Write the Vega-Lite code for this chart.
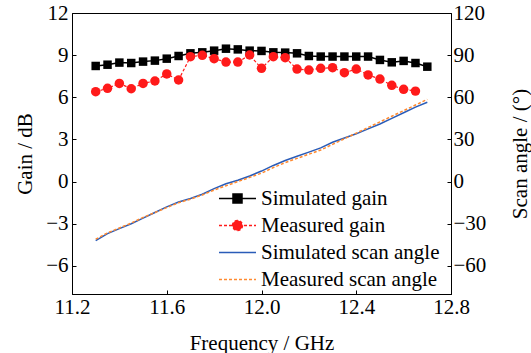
{
  "$schema": "https://vega.github.io/schema/vega-lite/v6.json",
  "width": 379,
  "height": 281,
  "autosize": {"type": "none"},
  "padding": {"left": 72, "top": 13, "right": 80, "bottom": 59},
  "background": "white",
  "config": {
    "font": "serif",
    "view": {"stroke": "black", "strokeWidth": 1},
    "axis": {
      "grid": false,
      "domainColor": "black",
      "tickColor": "black",
      "labelFontSize": 21,
      "titleFontSize": 21,
      "titleFontWeight": "normal",
      "labelFlush": false,
      "labelOverlap": false,
      "tickSize": -4
    }
  },
  "data": {
    "values": [
      {"f": 11.3, "series": "Simulated gain", "v": 8.23},
      {"f": 11.35, "series": "Simulated gain", "v": 8.32},
      {"f": 11.4, "series": "Simulated gain", "v": 8.47},
      {"f": 11.45, "series": "Simulated gain", "v": 8.44},
      {"f": 11.5, "series": "Simulated gain", "v": 8.54},
      {"f": 11.55, "series": "Simulated gain", "v": 8.61},
      {"f": 11.6, "series": "Simulated gain", "v": 8.75},
      {"f": 11.65, "series": "Simulated gain", "v": 8.94},
      {"f": 11.7, "series": "Simulated gain", "v": 9.13},
      {"f": 11.75, "series": "Simulated gain", "v": 9.2},
      {"f": 11.8, "series": "Simulated gain", "v": 9.32},
      {"f": 11.85, "series": "Simulated gain", "v": 9.46},
      {"f": 11.9, "series": "Simulated gain", "v": 9.41},
      {"f": 11.95, "series": "Simulated gain", "v": 9.32},
      {"f": 12.0, "series": "Simulated gain", "v": 9.3},
      {"f": 12.05, "series": "Simulated gain", "v": 9.2},
      {"f": 12.1, "series": "Simulated gain", "v": 9.18},
      {"f": 12.15, "series": "Simulated gain", "v": 9.13},
      {"f": 12.2, "series": "Simulated gain", "v": 8.94},
      {"f": 12.25, "series": "Simulated gain", "v": 8.9},
      {"f": 12.3, "series": "Simulated gain", "v": 8.9},
      {"f": 12.35, "series": "Simulated gain", "v": 8.9},
      {"f": 12.4, "series": "Simulated gain", "v": 8.9},
      {"f": 12.45, "series": "Simulated gain", "v": 8.9},
      {"f": 12.5, "series": "Simulated gain", "v": 8.66},
      {"f": 12.55, "series": "Simulated gain", "v": 8.49},
      {"f": 12.6, "series": "Simulated gain", "v": 8.59},
      {"f": 12.65, "series": "Simulated gain", "v": 8.44},
      {"f": 12.7, "series": "Simulated gain", "v": 8.18},
      {"f": 11.3, "series": "Measured gain", "v": 6.4},
      {"f": 11.35, "series": "Measured gain", "v": 6.64},
      {"f": 11.4, "series": "Measured gain", "v": 6.99},
      {"f": 11.45, "series": "Measured gain", "v": 6.61},
      {"f": 11.5, "series": "Measured gain", "v": 6.99},
      {"f": 11.55, "series": "Measured gain", "v": 7.16},
      {"f": 11.6, "series": "Measured gain", "v": 7.66},
      {"f": 11.65, "series": "Measured gain", "v": 7.23},
      {"f": 11.7, "series": "Measured gain", "v": 8.89},
      {"f": 11.75, "series": "Measured gain", "v": 8.99},
      {"f": 11.8, "series": "Measured gain", "v": 8.75},
      {"f": 11.85, "series": "Measured gain", "v": 8.51},
      {"f": 11.9, "series": "Measured gain", "v": 8.51},
      {"f": 11.95, "series": "Measured gain", "v": 9.01},
      {"f": 12.0, "series": "Measured gain", "v": 8.06},
      {"f": 12.05, "series": "Measured gain", "v": 8.89},
      {"f": 12.1, "series": "Measured gain", "v": 8.82},
      {"f": 12.15, "series": "Measured gain", "v": 8.01},
      {"f": 12.2, "series": "Measured gain", "v": 7.94},
      {"f": 12.25, "series": "Measured gain", "v": 8.06},
      {"f": 12.3, "series": "Measured gain", "v": 8.11},
      {"f": 12.35, "series": "Measured gain", "v": 7.75},
      {"f": 12.4, "series": "Measured gain", "v": 8.01},
      {"f": 12.45, "series": "Measured gain", "v": 7.59},
      {"f": 12.5, "series": "Measured gain", "v": 7.3},
      {"f": 12.55, "series": "Measured gain", "v": 6.85},
      {"f": 12.6, "series": "Measured gain", "v": 6.57},
      {"f": 12.65, "series": "Measured gain", "v": 6.44},
      {"f": 11.3, "series": "Simulated scan angle", "v": -42},
      {"f": 11.35, "series": "Simulated scan angle", "v": -37},
      {"f": 11.4, "series": "Simulated scan angle", "v": -33.5},
      {"f": 11.45, "series": "Simulated scan angle", "v": -30},
      {"f": 11.5, "series": "Simulated scan angle", "v": -26},
      {"f": 11.55, "series": "Simulated scan angle", "v": -22},
      {"f": 11.6, "series": "Simulated scan angle", "v": -18},
      {"f": 11.65, "series": "Simulated scan angle", "v": -14.5},
      {"f": 11.7, "series": "Simulated scan angle", "v": -12},
      {"f": 11.75, "series": "Simulated scan angle", "v": -9},
      {"f": 11.8, "series": "Simulated scan angle", "v": -5},
      {"f": 11.85, "series": "Simulated scan angle", "v": -1.5},
      {"f": 11.9, "series": "Simulated scan angle", "v": 1},
      {"f": 11.95, "series": "Simulated scan angle", "v": 4},
      {"f": 12.0, "series": "Simulated scan angle", "v": 7.5},
      {"f": 12.05, "series": "Simulated scan angle", "v": 11.5},
      {"f": 12.1, "series": "Simulated scan angle", "v": 15},
      {"f": 12.15, "series": "Simulated scan angle", "v": 18},
      {"f": 12.2, "series": "Simulated scan angle", "v": 21},
      {"f": 12.25, "series": "Simulated scan angle", "v": 24},
      {"f": 12.3, "series": "Simulated scan angle", "v": 28},
      {"f": 12.35, "series": "Simulated scan angle", "v": 31},
      {"f": 12.4, "series": "Simulated scan angle", "v": 34},
      {"f": 12.45, "series": "Simulated scan angle", "v": 37.5},
      {"f": 12.5, "series": "Simulated scan angle", "v": 41},
      {"f": 12.55, "series": "Simulated scan angle", "v": 45},
      {"f": 12.6, "series": "Simulated scan angle", "v": 49},
      {"f": 12.65, "series": "Simulated scan angle", "v": 53},
      {"f": 12.7, "series": "Simulated scan angle", "v": 56.5},
      {"f": 11.3, "series": "Measured scan angle", "v": -41},
      {"f": 11.35, "series": "Measured scan angle", "v": -36.5},
      {"f": 11.4, "series": "Measured scan angle", "v": -33},
      {"f": 11.45, "series": "Measured scan angle", "v": -29.5},
      {"f": 11.5, "series": "Measured scan angle", "v": -25.5},
      {"f": 11.55, "series": "Measured scan angle", "v": -22},
      {"f": 11.6, "series": "Measured scan angle", "v": -18.5},
      {"f": 11.65, "series": "Measured scan angle", "v": -15},
      {"f": 11.7, "series": "Measured scan angle", "v": -12.5},
      {"f": 11.75, "series": "Measured scan angle", "v": -9.5},
      {"f": 11.8, "series": "Measured scan angle", "v": -6},
      {"f": 11.85, "series": "Measured scan angle", "v": -3},
      {"f": 11.9, "series": "Measured scan angle", "v": 0},
      {"f": 11.95, "series": "Measured scan angle", "v": 3},
      {"f": 12.0, "series": "Measured scan angle", "v": 6},
      {"f": 12.05, "series": "Measured scan angle", "v": 10},
      {"f": 12.1, "series": "Measured scan angle", "v": 13.5},
      {"f": 12.15, "series": "Measured scan angle", "v": 16.5},
      {"f": 12.2, "series": "Measured scan angle", "v": 19.5},
      {"f": 12.25, "series": "Measured scan angle", "v": 22.5},
      {"f": 12.3, "series": "Measured scan angle", "v": 26.5},
      {"f": 12.35, "series": "Measured scan angle", "v": 30.5},
      {"f": 12.4, "series": "Measured scan angle", "v": 34.5},
      {"f": 12.45, "series": "Measured scan angle", "v": 38.5},
      {"f": 12.5, "series": "Measured scan angle", "v": 42.5},
      {"f": 12.55, "series": "Measured scan angle", "v": 46.5},
      {"f": 12.6, "series": "Measured scan angle", "v": 50.5},
      {"f": 12.65, "series": "Measured scan angle", "v": 54.5},
      {"f": 12.7, "series": "Measured scan angle", "v": 58.5}
    ]
  },
  "encoding": {
    "x": {
      "field": "f",
      "type": "quantitative",
      "scale": {"domain": [11.2, 12.8], "nice": false, "zero": false},
      "axis": {
        "title": "Frequency / GHz",
        "values": [11.2, 11.6, 12.0, 12.4, 12.8],
        "format": ".1f",
        "labelFont": "serif",
        "titleFont": "serif",
        "labelFontSize": 21,
        "titleFontSize": 21,
        "labelPadding": 6,
        "titlePadding": 15
      }
    },
    "color": {
      "field": "series",
      "type": "nominal",
      "scale": {
        "domain": ["Simulated gain", "Measured gain", "Simulated scan angle", "Measured scan angle"],
        "range": ["#000000", "#ff1a1a", "#2a5cb8", "#ff8a30"]
      },
      "legend": {
        "title": null,
        "orient": "none",
        "legendX": 154,
        "legendY": 174,
        "padding": 0,
        "symbolSize": 441,
        "symbolStrokeWidth": 1.5,
        "labelOffset": 12,
        "rowPadding": 5,
        "labelLimit": 400,
        "labelFont": "serif",
        "labelFontSize": 21,
        "labelColor": "black",
        "encoding": {
          "symbols": {
            "shape": {"value": {"expr": "datum.value === 'Simulated gain' ? 'M-1.762,0L1.762,0M-0.43,-0.43L0.43,-0.43L0.43,0.43L-0.43,0.43Z' : datum.value === 'Measured gain' ? 'M-1.762,0L1.762,0M-0.476,0A0.476,0.476,0,1,1,0.476,0A0.476,0.476,0,1,1,-0.476,0Z' : 'M-1.762,0L1.762,0'"}},
            "fill": {"value": {"expr": "datum.value === 'Simulated gain' ? '#000000' : datum.value === 'Measured gain' ? '#ff1a1a' : 'transparent'"}},
            "fillOpacity": {"value": 1},
            "opacity": {"value": 1},
            "strokeDash": {"value": {"expr": "(datum.value === 'Measured gain' || datum.value === 'Measured scan angle') ? [3, 2] : []"}}
          }
        }
      }
    }
  },
  "layer": [
    {
      "encoding": {
        "y": {
          "field": "v",
          "type": "quantitative",
          "scale": {"domain": [-8, 12], "nice": false, "zero": false},
          "axis": {
            "title": "Gain / dB",
            "orient": "left",
            "values": [-6, -3, 0, 3, 6, 9, 12],
            "labelFont": "serif",
            "titleFont": "serif",
            "labelFontSize": 21,
            "titleFontSize": 21,
            "labelPadding": 8,
            "titlePadding": 10
          }
        }
      },
      "layer": [
        {
          "transform": [{"filter": "datum.series === 'Simulated gain'"}],
          "mark": {"type": "line", "strokeWidth": 1.5}
        },
        {
          "transform": [{"filter": "datum.series === 'Measured gain'"}],
          "mark": {"type": "line", "strokeWidth": 1.2, "strokeDash": [3, 2]}
        },
        {
          "transform": [{"filter": "datum.series === 'Simulated gain'"}],
          "mark": {"type": "point", "shape": "square", "filled": true, "size": 72, "opacity": 1}
        },
        {
          "transform": [{"filter": "datum.series === 'Measured gain'"}],
          "mark": {"type": "point", "shape": "circle", "filled": true, "size": 90, "opacity": 1}
        }
      ]
    },
    {
      "encoding": {
        "y": {
          "field": "v",
          "type": "quantitative",
          "scale": {"domain": [-80, 120], "nice": false, "zero": false},
          "axis": {
            "title": "Scan angle / (°)",
            "orient": "right",
            "values": [-60, -30, 0, 30, 60, 90, 120],
            "labelFont": "serif",
            "titleFont": "serif",
            "labelFontSize": 21,
            "titleFontSize": 21,
            "labelPadding": 6,
            "titlePadding": 45,
            "titleAngle": 270
          }
        }
      },
      "layer": [
        {
          "transform": [{"filter": "datum.series === 'Simulated scan angle'"}],
          "mark": {"type": "line", "strokeWidth": 1.5}
        },
        {
          "transform": [{"filter": "datum.series === 'Measured scan angle'"}],
          "mark": {"type": "line", "strokeWidth": 1.5, "strokeDash": [3, 2]}
        }
      ]
    }
  ],
  "resolve": {"scale": {"y": "independent"}}
}
